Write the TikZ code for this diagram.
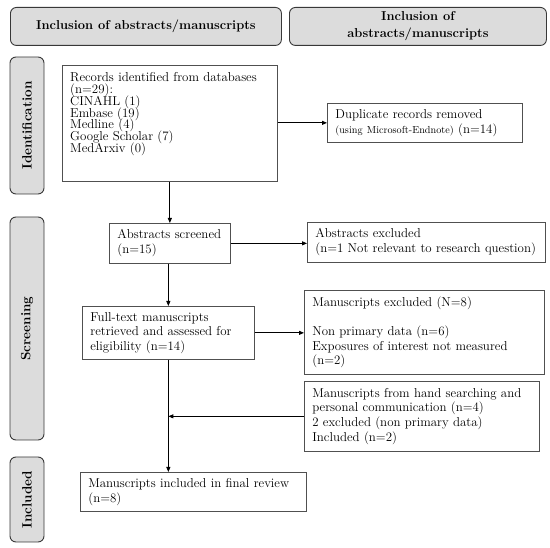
\documentclass[tikz,border=0pt]{standalone}
\usepackage{fontspec}
\usetikzlibrary{arrows.meta}
\definecolor{hdrfill}{HTML}{DCDCDC}
\definecolor{hdrdraw}{HTML}{383838}
\definecolor{boxdraw}{HTML}{505050}
\begin{document}
\begin{tikzpicture}[x=1pt,y=-1pt,
  every node/.style={font=\fontsize{12.9}{14.7}\selectfont},
  hdr/.style={draw=hdrdraw, fill=hdrfill, rounded corners=6pt, line width=0.9pt,
    inner sep=0pt, anchor=north west, align=center,
    font=\fontsize{12.9}{17}\selectfont\bfseries},
  side/.style={hdr, anchor=center, rotate=90, minimum height=34pt,
    font=\fontsize{13.5}{16}\selectfont\bfseries},
  box/.style={draw=boxdraw, line width=0.7pt, inner xsep=8pt, inner ysep=0pt,
    align=left, anchor=north west},
  rectext/.style={inner sep=0pt, anchor=north west, align=left, text width=205pt,
    font={\fontsize{12.9}{11.8}\selectfont\lineskiplimit=-20pt}},
  arr/.style={-{Triangle[length=5pt,width=4pt]}, line width=0.8pt, black}]
\useasboundingbox (0,0) rectangle (550,548);

% headers
\node[hdr, minimum width=271pt, minimum height=38pt] (h1) at (10,7)
  {Inclusion of abstracts/manuscripts};
\node[hdr, minimum width=257pt, minimum height=38pt] (h2) at (289,7)
  {Inclusion of\\abstracts/manuscripts};

% side bars
\node[side, minimum width=137pt] (sid) at (27,125.5) {Identification};
\node[side, minimum width=223pt] (ssc) at (27,328.5) {Screening};
\node[side, minimum width=85pt] (sin) at (27,499.5) {Included};

% records
\node[box, minimum width=215pt, minimum height=116pt] (rec) at (62,65) {};
\node[rectext] (rect) at (70,72.5) {Records identified from databases\\(n=29):\\CINAHL (1)\\Embase (19)\\Medline (4)\\Google Scholar (7)\\MedArxiv (0)};

\node[box, text width=179pt, minimum height=39pt] (dup) at (327,103)
  {Duplicate records removed\\{\fontsize{10.2}{12}\selectfont (using Microsoft-Endnote)} (n=14)};

\node[box, text width=105pt, minimum height=40pt] (abs) at (109,223)
  {Abstracts screened\\(n=15)};

\node[box, text width=222pt, minimum height=40pt] (absx) at (307,222)
  {Abstracts excluded\\(n=1 Not relevant to research question)};

\node[box, text width=156pt, minimum height=53pt] (full) at (82,306)
  {Full-text manuscripts\\retrieved and assessed for\\eligibility (n=14)};

\node[box, text width=224pt, minimum height=84pt] (manx) at (304,290)
  {Manuscripts excluded (N=8)\\[14.7pt]Non primary data (n=6)\\Exposures of interest not measured\\(n=2)};

\node[box, text width=219pt, minimum height=70pt] (hand) at (304,381)
  {Manuscripts from hand searching and\\personal communication (n=4)\\2 excluded (non primary data)\\Included (n=2)};

\node[box, text width=210pt, minimum height=39pt] (final) at (80,472)
  {Manuscripts included in final review\\(n=8)};

% connectors
\draw[arr] (dup.west -| rec.east) -- (dup.west);
\draw[arr] (rec.south) -- (rec.south |- abs.north);
\draw[arr] (abs.east) -- (abs.east -| absx.west);
\draw[arr] (abs.south -| full.north) -- (full.north);
\draw[arr] (full.east) -- (full.east -| manx.west);
\draw[arr] (full.south) -- (full.south |- final.north);
\draw[arr] (hand.west) -- (hand.west -| full.south);
\end{tikzpicture}
\end{document}
